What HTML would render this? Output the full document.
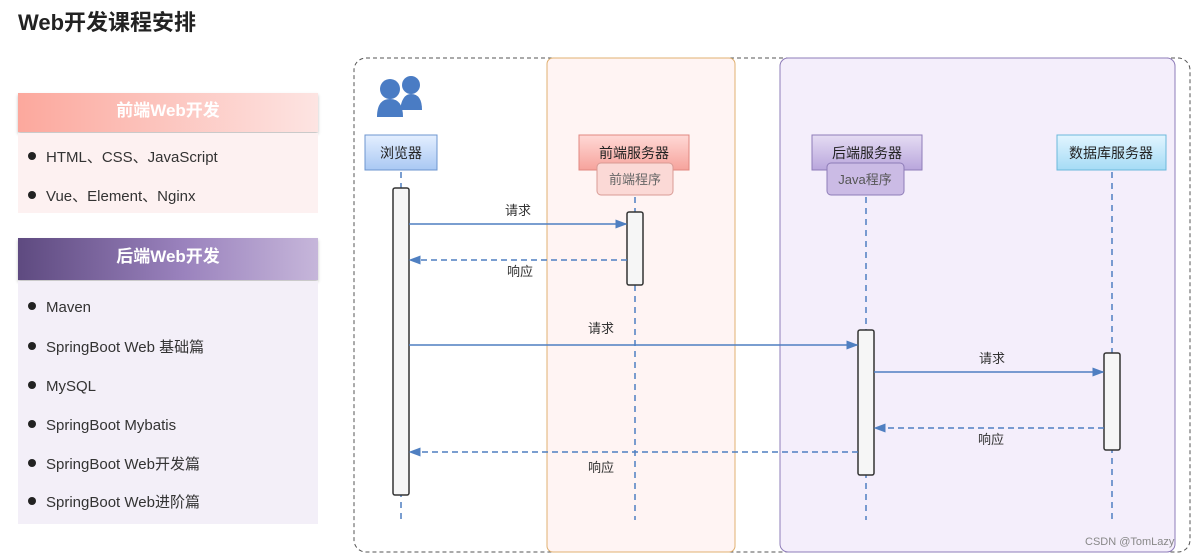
<!DOCTYPE html>
<html><head><meta charset="utf-8"><style>
body{margin:0;width:1197px;height:557px;background:#fff;position:relative;overflow:hidden;font-family:"Liberation Sans","Noto Sans CJK SC",sans-serif;color:#333}
.t{position:absolute;left:18px;top:5px;font-size:22px;font-weight:bold;color:#222}
.hd{position:absolute;left:18px;width:300px;color:#fff;font-weight:bold;font-size:17px;text-align:center;box-shadow:0 2px 3px rgba(0,0,0,.25)}
.bd{position:absolute;left:18px;width:300px}
.it{position:absolute;left:28px;font-size:15px;line-height:20px;height:20px;color:#333;white-space:nowrap}
.it:before{content:"";display:inline-block;width:8px;height:8px;border-radius:50%;background:#222;margin-right:10px;vertical-align:2px}
</style></head><body>
<div class="t">Web开发课程安排</div>
<div class="hd" style="top:93px;height:39px;line-height:36px;background:linear-gradient(90deg,#fca89d,#fde4e2)">前端Web开发</div>
<div class="bd" style="top:133px;height:80px;background:#fdf1f1"></div>
<div class="it" style="top:148px">HTML、CSS、JavaScript</div>
<div class="it" style="top:187px">Vue、Element、Nginx</div>
<div class="hd" style="top:238px;height:42px;line-height:38px;background:linear-gradient(90deg,#5e4a80,#9a82bd 55%,#c6b6da)">后端Web开发</div>
<div class="bd" style="top:281px;height:243px;background:#f3eff8"></div>
<div class="it" style="top:298px">Maven</div>
<div class="it" style="top:338px">SpringBoot Web 基础篇</div>
<div class="it" style="top:377px">MySQL</div>
<div class="it" style="top:416px">SpringBoot Mybatis</div>
<div class="it" style="top:455px">SpringBoot Web开发篇</div>
<div class="it" style="top:493px">SpringBoot Web进阶篇</div>
<svg width="1197" height="557" style="position:absolute;left:0;top:0" font-family="Liberation Sans,Noto Sans CJK SC,sans-serif">
<defs><marker id="a" markerWidth="8" markerHeight="8" refX="7" refY="4" orient="auto"><path d="M0,1 L8,4 L0,7z" fill="#4f7fc1"/></marker>
<linearGradient id="gb" x1="0" y1="0" x2="0" y2="1"><stop offset="0" stop-color="#e4efff"/><stop offset="1" stop-color="#a9c8f3"/></linearGradient>
<linearGradient id="gr" x1="0" y1="0" x2="0" y2="1"><stop offset="0" stop-color="#ffd9d6"/><stop offset="1" stop-color="#f6a39c"/></linearGradient>
<linearGradient id="gp" x1="0" y1="0" x2="0" y2="1"><stop offset="0" stop-color="#e5dcf3"/><stop offset="1" stop-color="#b9a6dc"/></linearGradient>
<linearGradient id="gc" x1="0" y1="0" x2="0" y2="1"><stop offset="0" stop-color="#e2f5ff"/><stop offset="1" stop-color="#a5dbf5"/></linearGradient></defs>
<rect x="354" y="58" width="836" height="494" rx="12" fill="none" stroke="#555" stroke-dasharray="4,3"/>
<rect x="547" y="58" width="188" height="494" rx="6" fill="#fff4f3" stroke="#e0b070"/>
<rect x="780" y="58" width="395" height="494" rx="8" fill="#f4eefb" stroke="#8e7cb8"/>
<g fill="#4a7cc4"><circle cx="390" cy="89" r="10"/><path d="M377,117 q0,-18 13,-18 q13,0 13,18z"/><circle cx="411" cy="85" r="9"/><path d="M400,110 q2,-16 11,-16 q11,0 11,16z"/></g>
<rect x="365" y="135" width="72" height="35" fill="url(#gb)" stroke="#6c95cf"/>
<text x="401" y="158" text-anchor="middle" font-size="14" fill="#222">浏览器</text>
<rect x="579" y="135" width="110" height="35" fill="url(#gr)" stroke="#e08780"/>
<text x="634" y="158" text-anchor="middle" font-size="14" fill="#222">前端服务器</text>
<rect x="597" y="163" width="76" height="32" rx="4" fill="#fbd9d6" stroke="#d89a94"/>
<text x="635" y="184" text-anchor="middle" font-size="13" fill="#666">前端程序</text>
<rect x="812" y="135" width="110" height="35" fill="url(#gp)" stroke="#8e7cb8"/>
<text x="867" y="158" text-anchor="middle" font-size="14" fill="#222">后端服务器</text>
<rect x="827" y="163" width="77" height="32" rx="4" fill="#cbbbe5" stroke="#8e7cb8"/>
<text x="865" y="184" text-anchor="middle" font-size="13" fill="#555">Java程序</text>
<rect x="1057" y="135" width="109" height="35" fill="url(#gc)" stroke="#6bb8db"/>
<text x="1111" y="158" text-anchor="middle" font-size="14" fill="#222">数据库服务器</text>
<g stroke="#4f7fc1" stroke-width="1.5" stroke-dasharray="6,5"><line x1="401" y1="172" x2="401" y2="520"/><line x1="635" y1="197" x2="635" y2="520"/><line x1="866" y1="197" x2="866" y2="520"/><line x1="1112" y1="172" x2="1112" y2="520"/></g>
<g fill="#f6f6f6" stroke="#333" stroke-width="1.5"><rect x="393" y="188" width="16" height="307" rx="2"/><rect x="627" y="212" width="16" height="73" rx="2"/><rect x="858" y="330" width="16" height="145" rx="2"/><rect x="1104" y="353" width="16" height="97" rx="2"/></g>
<g stroke="#4f7fc1" stroke-width="1.5" marker-end="url(#a)"><line x1="409" y1="224" x2="626" y2="224"/><line x1="409" y1="345" x2="857" y2="345"/><line x1="874" y1="372" x2="1103" y2="372"/></g>
<g stroke="#4f7fc1" stroke-width="1.5" stroke-dasharray="6,4" marker-end="url(#a)"><line x1="627" y1="260" x2="410" y2="260"/><line x1="1104" y1="428" x2="875" y2="428"/><line x1="858" y1="452" x2="410" y2="452"/></g>
<g font-size="13" fill="#333" text-anchor="middle"><text x="518" y="215">请求</text><text x="520" y="276">响应</text><text x="601" y="333">请求</text><text x="992" y="363">请求</text><text x="991" y="444">响应</text><text x="601" y="472">响应</text></g>
<text x="1085" y="545" font-size="11" fill="#888">CSDN @TomLazy</text>
</svg>
</body></html>
